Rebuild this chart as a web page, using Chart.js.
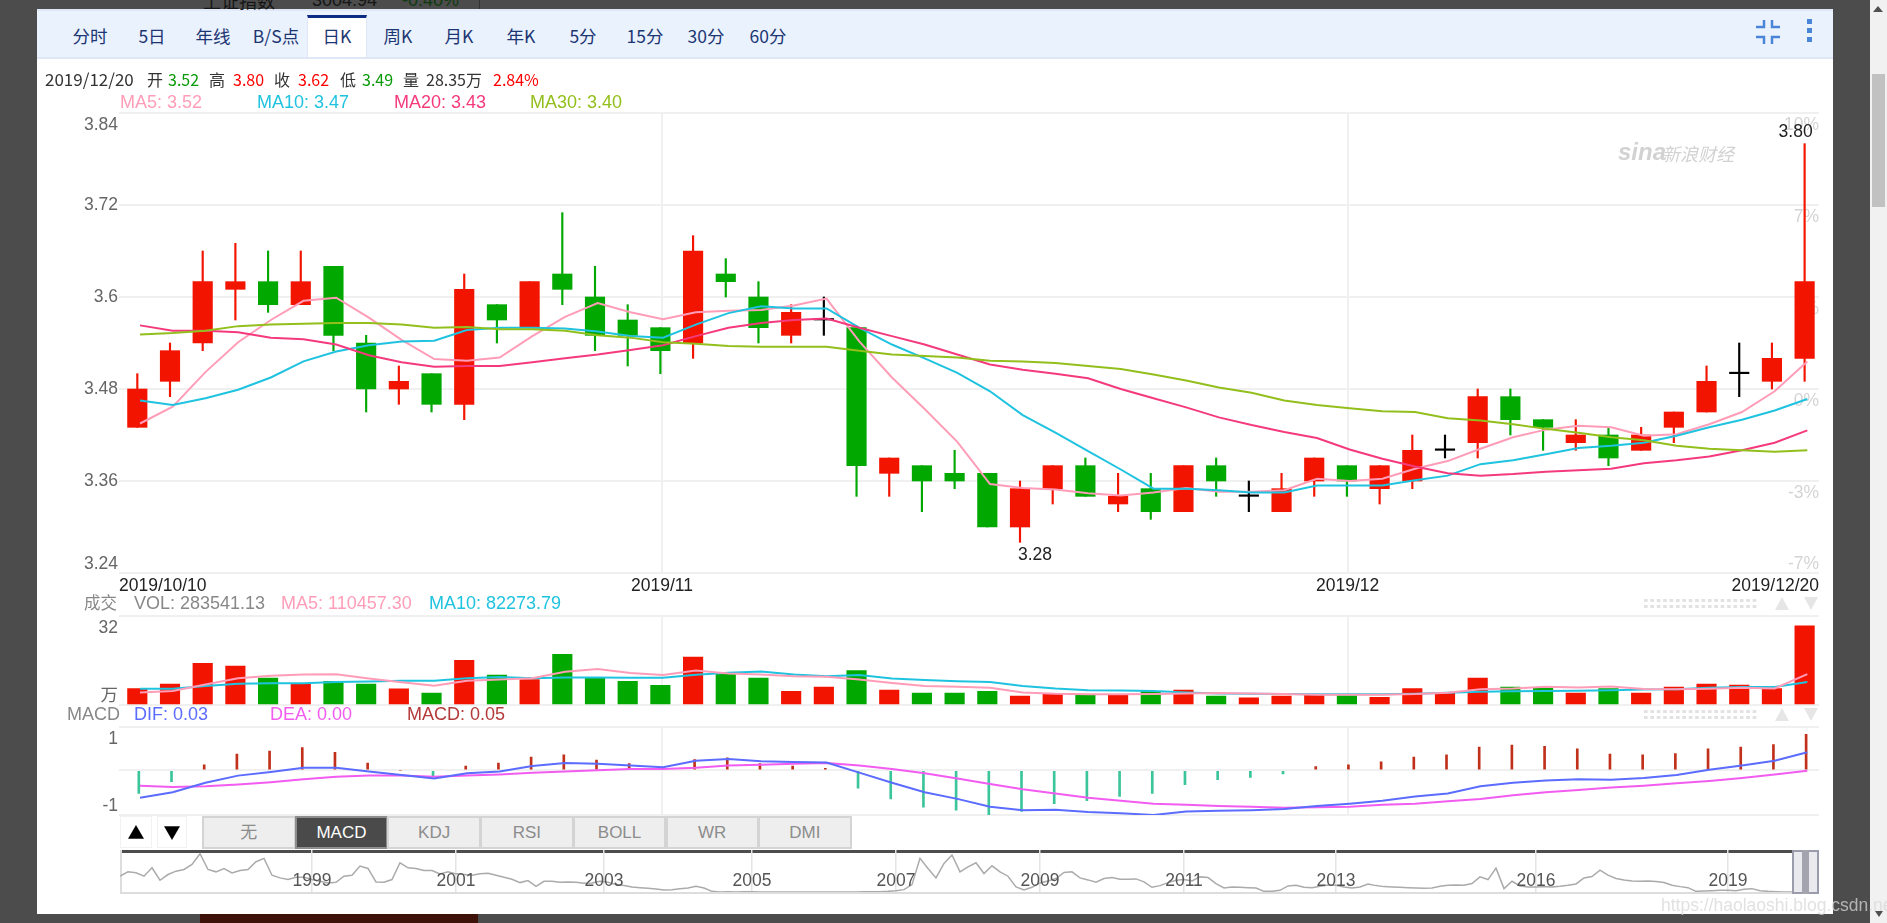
<!DOCTYPE html>
<html>
<head>
<meta charset="utf-8">
<title>日K</title>
<script src="https://cdn.jsdelivr.net/npm/chart.js@4/dist/chart.umd.js"></script>
<style>
    html, body { margin: 0; padding: 0; background: #4c4c4c; overflow: hidden; }
    #page { position: relative; width: 1887px; height: 923px; overflow: hidden; font-family: "Liberation Sans", "Noto Sans CJK SC", sans-serif; }
    #page div, #page span, #page canvas, #page svg { position: absolute; }
    .t { white-space: nowrap; line-height: 30px; height: 30px; }
    .tri { width: 0; height: 0; border-left: 7px solid transparent; border-right: 7px solid transparent; }
    .dots { left: 1644px; width: 115px; height: 3px; background-image: linear-gradient(90deg, #e2e2e2 4px, transparent 4px); background-size: 6.4px 100%; }
</style>
</head>
<body>
<div id="page">
    <div id="panel" style="left:37px;top:9px;width:1796px;height:905px;background:#fff"></div>
    <div style="left:37px;top:9px;width:1796px;height:46px;background:#eaf2fd;border-top:2px solid #dfe8f7;border-bottom:2px solid #dfe6f5;box-sizing:content-box"></div>
    <div style="left:307px;top:15px;width:60px;height:42px;background:#fff;border-top:3px solid #0c2d83;box-sizing:border-box;border-left:1px solid #dfe6f5;border-right:1px solid #dfe6f5"></div>
    <svg style="left:1750px;top:14px" width="36" height="36" fill="none" stroke="#4a86d8" stroke-width="2.5">
        <path d="M6 13H14V6M30 13H22V6M6 23H14V30M30 23H22V30"/>
    </svg>
    <div style="left:1807px;top:19px;width:5px;height:5px;background:#4a86d8"></div>
    <div style="left:1807px;top:28px;width:5px;height:5px;background:#4a86d8"></div>
    <div style="left:1807px;top:37px;width:5px;height:5px;background:#4a86d8"></div>

    <div style="left:479px;top:0;width:1px;height:9px;background:#333"></div>
    <div style="left:200px;top:914px;width:278px;height:9px;background:#3f1209"></div>

    <div style="left:1870px;top:0;width:17px;height:923px;background:#f1f1f1"></div>
    <div style="left:1872px;top:74px;width:13px;height:133px;background:#c1c1c1"></div>
    <div class="tri" style="left:1873px;top:6px;border-bottom:6px solid #505050;border-left-width:5px;border-right-width:5px"></div>
    <div class="tri" style="left:1875px;top:911px;border-top:6px solid #505050;border-left-width:4px;border-right-width:4px"></div>

    <div class="dots" style="top:599px"></div>
    <div class="dots" style="top:605px"></div>
    <div class="tri" style="left:1775px;top:597px;border-bottom:13px solid #e6e6e6"></div>
    <div class="tri" style="left:1804px;top:597px;border-top:13px solid #e6e6e6"></div>
    <div class="dots" style="top:710px"></div>
    <div class="dots" style="top:716px"></div>
    <div class="tri" style="left:1775px;top:708px;border-bottom:13px solid #e6e6e6"></div>
    <div class="tri" style="left:1804px;top:708px;border-top:13px solid #e6e6e6"></div>

    <div style="left:120px;top:816px;width:32px;height:32px;background:#fff;border:1px solid #f2f2f2;box-sizing:border-box"></div>
    <div style="left:157px;top:816px;width:30px;height:32px;background:#fff;border:1px solid #f2f2f2;box-sizing:border-box"></div>

    <div style="left:120px;top:850px;width:1699px;height:3px;background:#4c4c4c"></div>
    <div style="left:120px;top:892px;width:1699px;height:2px;background:#dddddd"></div>
    <div style="left:120px;top:850px;width:2px;height:44px;background:#dddddd"></div>

    <canvas id="klineChart" style="left:40px;top:83px"></canvas>
    <canvas id="volChart" style="left:40px;top:590px"></canvas>
    <canvas id="macdChart" style="left:40px;top:701px"></canvas>
    <canvas id="overviewChart" style="left:100px;top:830px"></canvas>

    <div style="left:1792px;top:850px;width:27px;height:44px;background:#e9e9ee;border:2px solid #9a9cab;box-sizing:border-box"></div>
    <div style="left:1802px;top:850px;width:7px;height:44px;background:#a3a4ad"></div>
</div>

<script>
    var dates = ['2019/10/10', '2019/11', '2019/12', '2019/12/20'];

    var opens = [3.43, 3.49, 3.54, 3.61, 3.62, 3.59, 3.64, 3.54, 3.48, 3.50, 3.46, 3.59, 3.56, 3.63, 3.60, 3.57, 3.56, 3.54, 3.63, 3.60, 3.55, 3.57, 3.56, 3.37, 3.38, 3.37, 3.37, 3.30, 3.35, 3.38, 3.33, 3.35, 3.32, 3.38, 3.34, 3.32, 3.36, 3.38, 3.35, 3.36, 3.40, 3.41, 3.47, 3.44, 3.41, 3.42, 3.40, 3.43, 3.45, 3.50, 3.49, 3.52];
    var closes = [3.48, 3.53, 3.62, 3.62, 3.59, 3.62, 3.55, 3.48, 3.49, 3.46, 3.61, 3.57, 3.62, 3.61, 3.55, 3.55, 3.53, 3.66, 3.62, 3.56, 3.58, 3.57, 3.38, 3.39, 3.36, 3.36, 3.30, 3.35, 3.38, 3.34, 3.34, 3.32, 3.38, 3.36, 3.34, 3.35, 3.39, 3.36, 3.38, 3.40, 3.40, 3.47, 3.44, 3.43, 3.42, 3.39, 3.42, 3.45, 3.49, 3.50, 3.52, 3.62];
    var highs = [3.50, 3.54, 3.66, 3.67, 3.66, 3.66, 3.64, 3.55, 3.51, 3.50, 3.63, 3.59, 3.62, 3.71, 3.64, 3.59, 3.56, 3.68, 3.65, 3.62, 3.59, 3.60, 3.56, 3.39, 3.38, 3.40, 3.37, 3.36, 3.38, 3.39, 3.37, 3.37, 3.38, 3.39, 3.36, 3.37, 3.39, 3.38, 3.38, 3.42, 3.42, 3.48, 3.48, 3.44, 3.44, 3.43, 3.43, 3.45, 3.51, 3.54, 3.54, 3.80];
    var lows = [3.43, 3.47, 3.53, 3.57, 3.58, 3.59, 3.53, 3.45, 3.46, 3.45, 3.44, 3.54, 3.56, 3.59, 3.53, 3.51, 3.50, 3.52, 3.60, 3.54, 3.54, 3.55, 3.34, 3.34, 3.32, 3.35, 3.30, 3.28, 3.33, 3.34, 3.32, 3.31, 3.32, 3.34, 3.32, 3.32, 3.34, 3.34, 3.33, 3.35, 3.39, 3.39, 3.42, 3.40, 3.40, 3.38, 3.40, 3.41, 3.45, 3.47, 3.48, 3.49];

    var ma5 = [3.435, 3.457, 3.502, 3.541, 3.570, 3.595, 3.599, 3.573, 3.544, 3.519, 3.517, 3.521, 3.549, 3.574, 3.592, 3.580, 3.571, 3.580, 3.582, 3.583, 3.589, 3.598, 3.542, 3.495, 3.454, 3.411, 3.356, 3.351, 3.349, 3.344, 3.341, 3.345, 3.351, 3.346, 3.346, 3.348, 3.363, 3.360, 3.363, 3.376, 3.386, 3.402, 3.417, 3.427, 3.432, 3.430, 3.419, 3.421, 3.434, 3.450, 3.477, 3.516];
    var ma10 = [3.465, 3.459, 3.468, 3.479, 3.495, 3.516, 3.529, 3.537, 3.542, 3.543, 3.557, 3.560, 3.560, 3.559, 3.555, 3.549, 3.547, 3.564, 3.579, 3.588, 3.585, 3.585, 3.560, 3.538, 3.520, 3.501, 3.477, 3.446, 3.423, 3.399, 3.375, 3.350, 3.350, 3.348, 3.345, 3.345, 3.354, 3.354, 3.354, 3.361, 3.367, 3.382, 3.387, 3.395, 3.403, 3.406, 3.410, 3.419, 3.430, 3.440, 3.452, 3.467];
    var ma20 = [3.563, 3.556, 3.556, 3.554, 3.547, 3.545, 3.538, 3.524, 3.515, 3.509, 3.510, 3.510, 3.515, 3.520, 3.525, 3.531, 3.537, 3.549, 3.560, 3.566, 3.570, 3.572, 3.560, 3.549, 3.538, 3.525, 3.512, 3.505, 3.500, 3.494, 3.480, 3.468, 3.456, 3.443, 3.433, 3.424, 3.416, 3.401, 3.389, 3.379, 3.370, 3.367, 3.369, 3.372, 3.374, 3.376, 3.383, 3.387, 3.392, 3.400, 3.410, 3.426];
    var ma30 = [3.551, 3.553, 3.556, 3.562, 3.564, 3.565, 3.566, 3.566, 3.564, 3.560, 3.561, 3.558, 3.558, 3.556, 3.550, 3.547, 3.541, 3.539, 3.536, 3.535, 3.535, 3.535, 3.530, 3.525, 3.523, 3.521, 3.517, 3.516, 3.514, 3.510, 3.506, 3.499, 3.491, 3.482, 3.475, 3.465, 3.459, 3.455, 3.451, 3.450, 3.442, 3.439, 3.434, 3.428, 3.423, 3.417, 3.413, 3.406, 3.402, 3.400, 3.398, 3.400];

    // volume in units of 10k shares
    var volumes = [5.9, 7.5, 14.9, 13.9, 9.6, 7.5, 8.5, 7.5, 5.8, 4.3, 16.0, 10.7, 9.1, 18.1, 9.8, 8.5, 7.0, 17.1, 11.5, 9.6, 4.9, 6.4, 12.3, 5.3, 4.3, 4.3, 4.9, 3.2, 4.0, 3.8, 3.7, 4.9, 5.3, 3.2, 2.6, 3.2, 3.6, 3.4, 2.7, 5.9, 4.4, 9.6, 6.4, 6.0, 4.3, 5.9, 4.3, 6.4, 7.5, 7.1, 5.9, 28.35];
    var volMa5 = [4.5, 5.0, 7.3, 9.6, 10.5, 10.9, 11.0, 9.5, 8.1, 6.9, 8.7, 9.1, 9.6, 11.9, 12.9, 11.4, 10.7, 12.3, 11.3, 10.9, 10.3, 10.1, 9.1, 7.9, 6.8, 6.5, 6.2, 4.5, 4.0, 3.8, 3.8, 3.9, 4.1, 4.3, 4.1, 3.9, 3.7, 3.7, 3.7, 3.9, 4.4, 5.6, 5.9, 6.5, 6.3, 6.6, 5.7, 5.6, 5.8, 6.2, 5.9, 11.05];
    var volMa10 = [5.8, 5.8, 6.8, 7.6, 7.8, 7.8, 8.2, 8.4, 8.7, 8.7, 9.6, 10.0, 9.6, 9.8, 9.8, 9.7, 9.7, 10.8, 11.5, 12.0, 10.9, 10.3, 10.7, 9.5, 8.9, 8.5, 8.2, 6.8, 5.9, 5.3, 5.2, 5.0, 4.5, 4.1, 4.0, 3.9, 3.8, 3.8, 3.8, 4.0, 4.4, 4.7, 4.9, 5.0, 5.1, 5.3, 5.5, 5.6, 6.2, 6.4, 6.4, 8.23];

    var dif = [-0.046, -0.037, -0.021, -0.009, -0.003, 0.004, 0.004, -0.002, -0.008, -0.014, -0.005, -0.002, 0.007, 0.012, 0.011, 0.008, 0.005, 0.016, 0.019, 0.015, 0.014, 0.013, -0.004, -0.021, -0.037, -0.048, -0.061, -0.067, -0.066, -0.070, -0.072, -0.075, -0.069, -0.068, -0.067, -0.065, -0.060, -0.056, -0.051, -0.044, -0.039, -0.027, -0.021, -0.017, -0.015, -0.016, -0.013, -0.008, 0.001, 0.008, 0.016, 0.030];
    var dea = [-0.026, -0.028, -0.027, -0.024, -0.020, -0.015, -0.011, -0.009, -0.009, -0.011, -0.009, -0.007, -0.004, -0.002, 0, 0.002, 0.002, 0.004, 0.008, 0.009, 0.011, 0.012, 0.008, 0.002, -0.005, -0.014, -0.023, -0.032, -0.039, -0.046, -0.051, -0.056, -0.058, -0.060, -0.061, -0.063, -0.062, -0.061, -0.058, -0.056, -0.052, -0.048, -0.042, -0.037, -0.033, -0.029, -0.026, -0.022, -0.018, -0.013, -0.007, -0.001];
    var macdBars = [-0.039, -0.019, 0.009, 0.027, 0.032, 0.038, 0.030, 0.012, 0, -0.009, 0.007, 0.012, 0.022, 0.026, 0.017, 0.011, 0.001, 0.018, 0.021, 0.011, 0.007, 0.003, -0.030, -0.048, -0.062, -0.067, -0.075, -0.069, -0.056, -0.051, -0.044, -0.039, -0.024, -0.016, -0.012, -0.006, 0.006, 0.009, 0.014, 0.022, 0.026, 0.039, 0.042, 0.040, 0.036, 0.027, 0.026, 0.028, 0.036, 0.039, 0.043, 0.060];

    var overviewValues = [47, 60, 57, 47, 72, 35, 52, 62, 67, 82, 114, 67, 60, 70, 57, 64, 67, 90, 100, 50, 42, 37, 44, 44, 37, 32, 27, 29, 47, 50, 77, 70, 30, 29, 37, 87, 72, 70, 64, 64, 54, 60, 54, 52, 50, 54, 56, 50, 44, 38, 28, 34, 17, 32, 32, 29, 30, 29, 26, 27, 32, 29,
        22, 19, 15, 13, 11, 9, 6, 7, 10, 12, 17, 12, 2, 0, 1, 0, 1, 1, 0, 0, 0, 0, 0, 0, 0, 0, 0, 0, 0, 0, 0, 1, 1, 1, 2, 4, 7, 22, 100, 70, 42, 85, 110, 60, 75, 87, 55, 78, 60, 47, 15, 6, 14, 27, 33, 40, 58, 60, 42, 36, 29, 40, 43, 38, 38, 39, 30, 14, 19, 28, 35, 37, 33, 45, 43, 25, 12, 15, 14, 13, 12, 2, 2, 5, 18, 20, 14, 13, 17, 21, 20, 15, 12, 15, 24, 19, 16, 15, 14, 13, 12, 11, 12, 17, 20, 21, 20, 25, 45, 37, 71, 10, 32, 18, 15, 15, 16, 15, 17, 20, 24, 42, 46, 65, 50, 40, 36, 33, 32, 33, 31, 28, 20, 16, 13, 2, 3, 4, 5, 5, 4, 8, 10, 4, 2, 1, 0, 0, 0, 0, 0];
    var overviewYears = ['1999', '2001', '2003', '2005', '2007', '2009', '2011', '2013', '2016', '2019'];
    var overviewYearIndex = [24, 42, 60.5, 79, 97, 115, 133, 152, 177, 201];

    var priceTicks = [3.24, 3.36, 3.48, 3.6, 3.72, 3.84];
    var priceTickLabels = ['3.24', '3.36', '3.48', '3.6', '3.72', '3.84'];
    var percentTickLabels = ['-7%', '-3%', '0%', '3%', '7%', '10%'];
    var dateTicks = [-0.56, 16.05, 37.02, 51.44];
    var volTicks = [0, 32];
    var volTickLabels = ['万', '32'];
    var macdTicks = [-0.075, 0, 0.0733];
    var macdTickLabels = ['-1', '', '1'];

    var tabLabels = ['分时', '5日', '年线', 'B/S点', '日K', '周K', '月K', '年K', '5分', '15分', '30分', '60分'];
    var tabCenters = [90, 152, 213, 276, 337, 398, 459, 521, 583, 645, 706, 768];
    var indicatorLabels = ['无', 'MACD', 'KDJ', 'RSI', 'BOLL', 'WR', 'DMI'];

    var RED = '#f31400', GREEN = '#00a800', GRID = '#f0f0f0';
    var CN_FONT = '"Noto Sans CJK SC", sans-serif';
    var AXIS_FAMILY = '"Liberation Sans", "Noto Sans CJK SC"';
    var AXIS_FONT = { family: AXIS_FAMILY, size: 17.5 };

    Chart.defaults.animation = false;
    Chart.defaults.responsive = false;
    Chart.defaults.devicePixelRatio = 1;
    Chart.defaults.plugins.legend.display = false;
    Chart.defaults.plugins.tooltip.enabled = false;

    function addText(text, left, center, color, size, family, align) {
        var el = document.createElement('div');
        el.className = 't';
        el.textContent = text;
        el.style.top = (center - 15) + 'px';
        el.style.color = color;
        el.style.fontSize = size + 'px';
        if (family) el.style.fontFamily = family;
        if (align === 'center') {
            el.style.left = left + 'px';
            el.style.transform = 'translateX(-50%)';
        } else {
            el.style.left = left + 'px';
        }
        document.getElementById('page').appendChild(el);
        return el;
    }

    // text behind the panel, cut off at the top
    addText('上证指数', 203, 0, '#151515', 18, CN_FONT);
    addText('3004.94', 312, 0, '#151515', 18);
    addText('-0.40%', 402, 0, '#0f3a0f', 18);

    tabLabels.forEach(function (label, i) {
        addText(label, tabCenters[i], 36, '#1c3573', 17.5, CN_FONT, 'center');
    });

    addText('2019/12/20', 45, 79, '#333', 17, CN_FONT);
    var infoTokens = [['开', 147, '#333'], ['3.52', 168, '#0a9a0a'], ['高', 209, '#333'], ['3.80', 233, '#f00'], ['收', 274, '#333'], ['3.62', 298, '#f00'], ['低', 340, '#333'], ['3.49', 362, '#0a9a0a'], ['量', 403, '#333'], ['28.35万', 426, '#333'], ['2.84%', 493, '#f00']];
    infoTokens.forEach(function (token) {
        addText(token[0], token[1], 79, token[2], 16, CN_FONT);
    });

    addText('MA5: 3.52', 120, 102, '#ff9db8', 18);
    addText('MA10: 3.47', 257, 102, '#1fc3e0', 18);
    addText('MA20: 3.43', 394, 102, '#f43a7c', 18);
    addText('MA30: 3.40', 530, 102, '#93bf1c', 18);

    addText('成交', 84, 603, '#888', 16.5);
    addText('VOL: 283541.13', 134, 603, '#888', 18);
    addText('MA5: 110457.30', 281, 603, '#ff9db8', 18);
    addText('MA10: 82273.79', 429, 603, '#1fc3e0', 18);

    addText('MACD', 67, 714, '#888', 18);
    addText('DIF: 0.03', 134, 714, '#5b6cff', 18);
    addText('DEA: 0.00', 270, 714, '#f25cf0', 18);
    addText('MACD: 0.05', 407, 714, '#b43a3a', 18);

    addText('▲', 136, 832, '#000', 17, CN_FONT, 'center');
    addText('▼', 172, 832, '#000', 17, CN_FONT, 'center');

    indicatorLabels.forEach(function (label, i) {
        var btn = document.createElement('div');
        var active = label === 'MACD';
        btn.textContent = label;
        btn.style.cssText = 'box-sizing:border-box;text-align:center;top:816px;height:33px;line-height:29px;width:93.5px;font-size:17px;left:' + (202 + i * 92.7) + 'px;' +
            'background:' + (active ? '#4a4a4a' : '#eeeeee') + ';color:' + (active ? '#fff' : '#8c8c8c') + ';border:2px solid ' + (active ? '#8d8d8d' : '#d4d4d4');
        document.getElementById('page').appendChild(btn);
    });

    // sina logo
    addText('sina', 1618, 152, '#d2d2d2', 24, null).style.cssText += 'font-weight:bold;font-style:italic;';
    addText('新浪财经', 1662, 153, '#d2d2d2', 18, CN_FONT).style.fontStyle = 'italic';

    var mark = addText('https://haolaoshi.blog.csdn.net', 1661, 905, 'rgba(215,215,215,0.75)', 17.5);
    mark.style.zIndex = 5;

    function points(values) {
        return values.map(function (v, i) {
            return { x: i, y: v };
        });
    }

    function ranges(a, b) {
        return a.map(function (v, i) {
            return { x: i, y: [Math.min(v, b[i]), Math.max(v, b[i])] };
        });
    }

    function lineSet(values, color, xAxisID, yAxisID) {
        return {
            type: 'line',
            data: points(values),
            borderColor: color,
            borderWidth: 2,
            pointRadius: 0,
            tension: 0,
            order: 1,
            xAxisID: xAxisID,
            yAxisID: yAxisID || 'y'
        };
    }

    function candleColor(i) {
        if (closes[i] === opens[i]) return '#000';
        return closes[i] > opens[i] ? RED : GREEN;
    }

    function upColor(i) {
        return closes[i] >= opens[i] ? RED : GREEN;
    }

    // edge labels sit inside the panel: an empty line pushes them off the grid line
    function insideLabel(text, down) {
        return down ? ['', text] : [text, ''];
    }

    // a tick's line height sets how far that push goes
    function edgeFont(tickCount) {
        return function (ctx) {
            var lineHeight = 1.2;
            if (ctx.index === 0) lineHeight = 1;
            if (ctx.index === tickCount - 1) lineHeight = 1.4;
            return { family: AXIS_FAMILY, size: 17.5, lineHeight: lineHeight };
        };
    }

    function setTicks(values) {
        return function (scale) {
            scale.ticks = values.map(function (v) {
                return { value: v };
            });
        };
    }

    function fixedSize(prop, size) {
        return function (scale) {
            scale[prop] = size;
        };
    }

    function dateAxis(showLabels, min, max) {
        return {
            type: 'linear',
            offset: false,
            min: min,
            max: max,
            afterBuildTicks: setTicks(dateTicks),
            afterFit: fixedSize('height', showLabels ? 30 : 0),
            border: { display: false },
            grid: {
                offset: false,
                drawTicks: false,
                lineWidth: 2,
                color: function (ctx) {
                    return ctx.index === 1 || ctx.index === 2 ? GRID : 'transparent';
                }
            },
            ticks: {
                display: showLabels,
                autoSkip: false,
                maxRotation: 0,
                align: 'inner',
                padding: 3,
                color: '#222',
                font: AXIS_FONT,
                callback: function (v, i) {
                    return dates[i];
                }
            }
        };
    }

    function hiddenX(min, max) {
        return { type: 'linear', display: false, offset: false, min: min, max: max };
    }

    function valueAxis(min, max, values, labelFor) {
        return {
            min: min,
            max: max,
            afterBuildTicks: setTicks(values),
            afterFit: fixedSize('width', 79),
            border: { display: false },
            grid: { drawTicks: false, lineWidth: 2, color: GRID },
            ticks: {
                autoSkip: false,
                padding: 1,
                color: '#666',
                font: edgeFont(values.length),
                callback: function (v, i) {
                    return labelFor(i);
                }
            }
        };
    }

    var peakLabels = {
        id: 'peakLabels',
        afterDatasetsDraw: function (chart) {
            var ctx = chart.ctx;
            var x = chart.scales.x;
            var y = chart.scales.y;
            ctx.save();
            ctx.font = '17.5px "Liberation Sans"';
            ctx.fillStyle = '#222';
            ctx.textBaseline = 'bottom';
            ctx.textAlign = 'left';
            ctx.fillText(lows[27].toFixed(2), x.getPixelForValue(27) - 2, y.getPixelForValue(lows[27]) + 22);
            ctx.textAlign = 'right';
            ctx.fillText(highs[51].toFixed(2), x.getPixelForValue(51) + 8, y.getPixelForValue(highs[51]) - 3);
            ctx.restore();
        }
    };

    var xMin = dateTicks[0], xMax = dateTicks[3];

    function sizeCanvas(id, w, h) {
        var c = document.getElementById(id);
        c.width = w;
        c.height = h;
        c.style.width = w + 'px';
        c.style.height = h + 'px';
        return c.getContext('2d');
    }

    new Chart(sizeCanvas('klineChart', 1800, 520), {
        type: 'bar',
        data: {
            datasets: [
                lineSet(ma30, '#93bf1c', 'xLine'),
                lineSet(ma20, '#f43a7c', 'xLine'),
                lineSet(ma10, '#1fc3e0', 'xLine'),
                lineSet(ma5, '#ff9db8', 'xLine'),
                {
                    data: ranges(opens, closes),
                    backgroundColor: opens.map(function (v, i) { return candleColor(i); }),
                    barThickness: 19.5,
                    minBarLength: 1.5,
                    grouped: false,
                    order: 2
                },
                {
                    data: ranges(lows, highs),
                    backgroundColor: opens.map(function (v, i) { return candleColor(i); }),
                    barThickness: 1.5,
                    grouped: false,
                    order: 3
                }
            ]
        },
        plugins: [peakLabels],
        options: {
            layout: { padding: { top: 30, right: 21, left: 0, bottom: 0 } },
            scales: {
                x: dateAxis(true, xMin, xMax),
                xLine: hiddenX(xMin - 0.083, xMax - 0.083),
                y: valueAxis(3.24, 3.84, priceTicks, function (i) {
                    var text = priceTickLabels[i];
                    if (i === 0) return insideLabel(text, false);
                    if (i === priceTicks.length - 1) return insideLabel(text, true);
                    return text;
                }),
                yRight: {
                    position: 'right',
                    min: 3.24,
                    max: 3.84,
                    afterBuildTicks: setTicks(priceTicks),
                    afterFit: fixedSize('width', 0),
                    border: { display: false },
                    grid: { display: false, drawTicks: false },
                    ticks: {
                        mirror: true,
                        autoSkip: false,
                        padding: 0,
                        color: '#d4d4d4',
                        font: function (ctx) {
                            return { family: AXIS_FAMILY, size: 17.5, lineHeight: ctx.index === 0 ? 1 : 1.4 };
                        },
                        callback: function (v, i) {
                            return insideLabel(percentTickLabels[i], i !== 0);
                        }
                    }
                }
            }
        }
    });

    new Chart(sizeCanvas('volChart', 1800, 140), {
        type: 'bar',
        data: {
            datasets: [
                lineSet(volMa5, '#ff9db8', 'xLine'),
                lineSet(volMa10, '#1fc3e0', 'xLine'),
                {
                    data: points(volumes),
                    backgroundColor: opens.map(function (v, i) { return upColor(i); }),
                    barThickness: 19.5,
                    grouped: false,
                    order: 2
                }
            ]
        },
        options: {
            layout: { padding: { top: 25, right: 21, left: 0, bottom: 25 } },
            scales: {
                x: dateAxis(false, xMin, xMax),
                xLine: hiddenX(xMin - 0.083, xMax - 0.083),
                y: valueAxis(0, 32, volTicks, function (i) {
                    return insideLabel(volTickLabels[i], i === 1);
                })
            }
        }
    });

    new Chart(sizeCanvas('macdChart', 1800, 139), {
        type: 'bar',
        data: {
            datasets: [
                lineSet(dif, '#5b6cff', 'xLine'),
                lineSet(dea, '#f25cf0', 'xLine'),
                {
                    data: points(macdBars),
                    xAxisID: 'xBar',
                    backgroundColor: macdBars.map(function (v) { return v >= 0 ? '#c0301a' : '#3cc49b'; }),
                    barThickness: 2,
                    grouped: false,
                    order: 2
                }
            ]
        },
        options: {
            layout: { padding: { top: 25, right: 21, left: 0, bottom: 25 } },
            scales: {
                x: dateAxis(false, xMin, xMax),
                xLine: hiddenX(xMin - 0.083, xMax - 0.083),
                xBar: hiddenX(xMin - 0.046, xMax - 0.046),
                y: valueAxis(-0.075, 0.0733, macdTicks, function (i) {
                    if (i === 1) return '';
                    return insideLabel(macdTickLabels[i], i === 2);
                })
            }
        }
    });

    new Chart(sizeCanvas('overviewChart', 1740, 82), {
        type: 'line',
        data: {
            datasets: [{
                data: points(overviewValues),
                borderColor: '#ababab',
                borderWidth: 1.5,
                pointRadius: 0,
                tension: 0
            }]
        },
        options: {
            layout: { padding: { top: 20, right: 22, left: 20, bottom: 20 } },
            scales: {
                x: {
                    type: 'linear',
                    min: 0,
                    max: 212.25,
                    afterBuildTicks: setTicks(overviewYearIndex),
                    afterFit: fixedSize('height', 0),
                    border: { display: false },
                    grid: { drawTicks: false, lineWidth: 1.5, color: '#e4e4e4' },
                    ticks: {
                        autoSkip: false,
                        maxRotation: 0,
                        mirror: true,
                        padding: 0,
                        z: 1,
                        color: '#555',
                        font: AXIS_FONT,
                        callback: function (v, i) {
                            return overviewYears[i];
                        }
                    }
                },
                y: { display: false, min: 0, max: 125 }
            }
        }
    });
</script>
</body>
</html>
